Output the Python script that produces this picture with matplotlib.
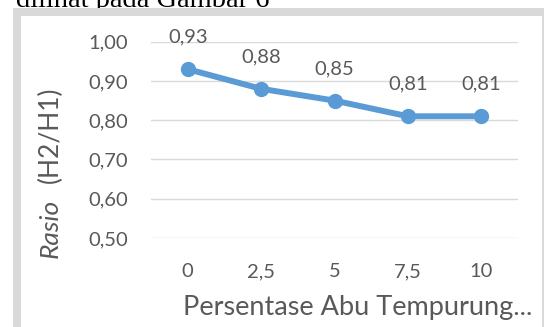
import matplotlib
matplotlib.use("Agg")
import matplotlib.pyplot as plt
from matplotlib.patches import Rectangle
from matplotlib.ticker import FuncFormatter

# data
kategori = ["0", "2,5", "5", "7,5", "10"]
rasio = [0.93, 0.88, 0.85, 0.81, 0.81]
y_ticks = [0.50, 0.60, 0.70, 0.80, 0.90, 1.00]

W, H = 545, 327
grey_txt = "#595959"
grey_line = "#d9d9d9"
blue = "#5b9bd5"
font = "Lato"

fig = plt.figure(figsize=(W / 100, H / 100), dpi=100)


def px(x, y):
    """pixel position (from top-left) -> figure fraction"""
    return x / W, 1 - y / H


# caption text above the frame (cut off in the original)
fig.text(*px(16, 7), "dilihat pada Gambar 6", family="Liberation Serif",
         fontsize=20.5, color="black", va="baseline", ha="left", zorder=0)

# frame around the chart
for x0, y0, w, h in [(13, 8, 8, 330), (13, 8, 531, 8), (541.5, 8, 2.5, 330)]:
    fig.add_artist(Rectangle((x0 / W, 1 - (y0 + h) / H), w / W, h / H,
                             transform=fig.transFigure, color=grey_line,
                             lw=0, zorder=5))

# plot area
left, right, top, bottom = 151, 518, 41.7, 238
ax = fig.add_axes([left / W, 1 - bottom / H, (right - left) / W, (bottom - top) / H])
xs = list(range(len(kategori)))
ax.plot(xs, rasio, color=blue, lw=4.3, marker="o", ms=10, zorder=3,
        solid_capstyle="round")

for x, v in zip(xs, rasio):
    ax.annotate(f"{v:.2f}".replace(".", ","), (x, v), xytext=(0, 23),
                textcoords="offset points", ha="center", va="center",
                family=font, fontsize=14.5, color=grey_txt)

ax.set_xlim(-0.5, len(kategori) - 0.5)
ax.set_ylim(0.5, 1.0)
ax.set_yticks(y_ticks)
ax.yaxis.set_major_formatter(FuncFormatter(lambda v, p: f"{v:.2f}".replace(".", ",")))
ax.set_xticks(xs)
ax.set_xticklabels(kategori)
ax.grid(axis="y", color=grey_line, lw=1)
ax.set_axisbelow(True)
for s in ax.spines.values():
    s.set_visible(False)
ax.tick_params(length=0, labelsize=14.5, labelcolor=grey_txt)
ax.tick_params(axis="y", pad=16.5)
ax.tick_params(axis="x", pad=18)
for lab in ax.get_xticklabels() + ax.get_yticklabels():
    lab.set_family(font)

# axis titles
fig.text(*px(183, 315), "Persentase Abu Tempurung...", family=font,
         fontsize=19.5, color=grey_txt, ha="left", va="baseline")
fig.text(*px(58, 258), "Rasio", family=font, style="italic", fontsize=19,
         color=grey_txt, rotation=90, rotation_mode="anchor",
         ha="left", va="baseline")
fig.text(*px(58, 183), "(H2/H1)", family=font, fontsize=19,
         color=grey_txt, rotation=90, rotation_mode="anchor",
         ha="left", va="baseline")

fig.savefig("out.png", dpi=100, facecolor="white")
